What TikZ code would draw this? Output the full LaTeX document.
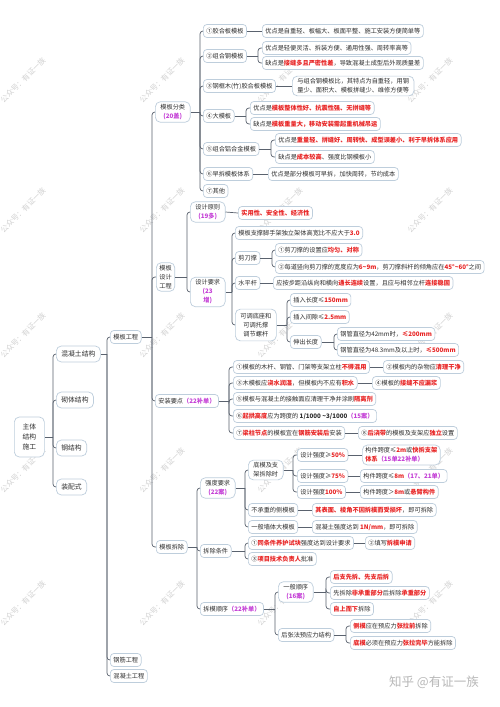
\documentclass[tikz,border=0pt]{standalone}
\usepackage{fontspec}
\setmainfont{Noto Sans CJK SC}
\usepackage{tikz}

\definecolor{ink}{RGB}{45,45,45}
\definecolor{boxline}{RGB}{190,206,220}
\definecolor{wire}{RGB}{90,98,110}
\definecolor{hotred}{RGB}{232,36,36}
\definecolor{tagpurple}{RGB}{196,62,214}

\newcommand\smallcn{\fontsize{6.2}{7.6}\selectfont}
\newcommand\stackcn{\fontsize{6.2}{9}\selectfont}
\newcommand\largecn{\fontsize{6.8}{10}\selectfont}
\newcommand\wmcn{\fontsize{7.5}{8}\selectfont}
\newcommand\hot[1]{\textcolor{hotred}{\bfseries #1}}
\newcommand\pur[1]{\textcolor{tagpurple}{\bfseries #1}}

\tikzset{
  box/.style={draw=boxline, fill=white, rounded corners=3.5pt, line width=0.7pt,
    inner xsep=3pt, inner ysep=1.5pt, minimum height=13pt, anchor=west,
    text=ink, font=\smallcn},
  stack/.style={box, align=center, inner xsep=5pt, inner ysep=2.5pt,
    rounded corners=5pt, font=\stackcn},
  bigbox/.style={box, inner xsep=5pt, minimum height=16pt, rounded corners=5pt,
    font=\largecn},
  rootbox/.style={bigbox, align=center, minimum width=30pt, minimum height=40pt},
  link/.style={draw=wire, line width=0.7pt, rounded corners=3pt},
  wmark/.style={text=black!18, rotate=45, font=\wmcn},
}

\begin{document}
\begin{tikzpicture}[x=1pt,y=-1pt]
\fill[white] (0,0) rectangle (500,707);
\useasboundingbox (0,0) rectangle (500,707);

% watermarks
\foreach \wx in {23,162,280,430}
  \foreach \wy in {80,210,335,470,603}
    \node[wmark] (wm-\wx-\wy) at (\wx,\wy) {公众号：有证一族};
\node[text=black!28, font=\fontsize{12.5}{13}\selectfont] (zhihu) at (434,682) {知乎 @有证一族};

% root and first level
\node[rootbox] (zt) at (14,437) {主体\\结构\\施工};
\coordinate (zt-j) at (53,437);
\node[bigbox] (hnt) at (56,354) {混凝土结构};
\node[bigbox] (qt) at (56,400) {砌体结构};
\node[bigbox] (gj) at (56,448) {钢结构};
\node[bigbox] (zp) at (56,487) {装配式};
\draw[link] (zt.east) -- (zt-j);
\foreach \c in {hnt,qt,gj,zp} \draw[link] (zt-j) |- (\c.west);

% concrete structure
\coordinate (hnt-j) at (107,354);
\node[box] (mbgc) at (110,337) {模板工程};
\node[box] (gjgc) at (110,660) {钢筋工程};
\node[box] (hntgc) at (110,676) {混凝土工程};
\draw[link] (hnt.east) -- (hnt-j);
\foreach \c in {mbgc,gjgc,hntgc} \draw[link] (hnt-j) |- (\c.west);

% formwork works
\coordinate (mbgc-j) at (152,337);
\node[stack] (mbfl) at (155,112) {模板分类\\\pur{(20盖)}};
\node[stack, inner xsep=3pt] (mbsj) at (156,277) {模板\\设计\\工程};
\node[box] (azyd) at (155,401) {安装要点\pur{（22补单）}};
\node[box] (mbcc) at (156,547) {模板拆除};
\draw[link] (mbgc.east) -- (mbgc-j);
\foreach \c in {mbfl,mbsj,azyd,mbcc} \draw[link] (mbgc-j) |- (\c.west);

% classification
\coordinate (mbfl-j) at (200,112);
\node[box] (fl1) at (203,31) {①胶合板模板};
\node[box] (fl1a) at (262,31) {优点是自重轻、板幅大、板面平整、施工安装方便简单等};
\node[box] (fl2) at (203,56) {②组合钢模板};
\node[box] (fl2a) at (262,48) {优点是轻便灵活、拆装方便、通用性强、周转率高等};
\node[box] (fl2b) at (262,63) {缺点是\hot{接缝多且严密性差}，导致混凝土成型后外观质量差};
\node[box] (fl3) at (203,86) {③钢框木(竹)胶合板模板};
\node[stack, align=left] (fl3a) at (292,86) {与组合钢模板比，其特点为自重轻，用钢\\量少、面积大、模板拼缝少、维修方便等};
\node[box] (fl4) at (203,116) {④大模板};
\node[box] (fl4a) at (250,108) {优点是\hot{模板整体性好、抗震性强、无拼缝等}};
\node[box] (fl4b) at (250,124) {缺点是\hot{模板重量大，移动安装需起重机械吊运}};
\node[box] (fl5) at (203,149) {⑤组合铝合金模板};
\node[box] (fl5a) at (275,140) {优点是\hot{重量轻、拼缝好、周转快、成型误差小、利于早拆体系应用}};
\node[box] (fl5b) at (275,157) {缺点是\hot{成本较高}、强度比钢模板小};
\node[box] (fl6) at (203,174) {⑥早拆模板体系};
\node[box] (fl6a) at (268,174) {优点是部分模板可早拆，加快周转，节约成本};
\node[box] (fl7) at (203,191) {⑦其他};
\draw[link] (mbfl.east) -- (mbfl-j);
\foreach \c in {fl1,fl2,fl3,fl4,fl5,fl6,fl7} \draw[link] (mbfl-j) |- (\c.west);
\coordinate (fl2-j) at (258,56);
\coordinate (fl4-j) at (246,116);
\coordinate (fl5-j) at (271,149);
\draw[link] (fl1.east) -- (fl1a.west);
\draw[link] (fl3.east) -- (fl3a.west);
\draw[link] (fl6.east) -- (fl6a.west);
\draw[link] (fl2.east) -- (fl2-j);
\foreach \c in {fl2a,fl2b} \draw[link] (fl2-j) |- (\c.west);
\draw[link] (fl4.east) -- (fl4-j);
\foreach \c in {fl4a,fl4b} \draw[link] (fl4-j) |- (\c.west);
\draw[link] (fl5.east) -- (fl5-j);
\foreach \c in {fl5a,fl5b} \draw[link] (fl5-j) |- (\c.west);

% design
\coordinate (mbsj-j) at (187,277);
\node[stack] (sjyz) at (190,212) {设计原则\\\pur{(19多)}};
\node[box] (sjyza) at (238,213) {\hot{实用性、安全性、经济性}};
\node[stack] (sjyq) at (190,292) {设计要求\\\pur{(23}\\\pur{增)}};
\draw[link] (mbsj.east) -- (mbsj-j);
\foreach \c in {sjyz,sjyq} \draw[link] (mbsj-j) |- (\c.west);
\draw[link] (sjyz.east) -- (sjyza.west);
\coordinate (sjyq-j) at (232,292);
\node[box] (yq1) at (235,233) {模板支撑脚手架独立架体高宽比不应大于\hot{3.0}};
\node[box] (yq2) at (235,258) {剪刀撑};
\node[box] (yq2a) at (275,250) {①剪刀撑的设置应\hot{均匀、对称}};
\node[box] (yq2b) at (275,267) {②每道竖向剪刀撑的宽度应为\hot{6\textasciitilde9m}，剪刀撑斜杆的倾角应在\hot{45°\textasciitilde60°}之间};
\node[box] (yq3) at (235,283) {水平杆};
\node[box] (yq3a) at (273,283) {应按步距沿纵向和横向\hot{通长连续}设置，且应与相邻立杆\hot{连接稳固}};
\node[stack, inner ysep=4pt] (yq4) at (235,325) {可调底座和\\可调托撑\\调节螺杆};
\node[box] (yq4a) at (290,300) {插入长度≤\hot{150mm}};
\node[box] (yq4b) at (290,317) {插入间隙≤\hot{2.5mm}};
\node[box] (yq4c) at (290,342) {伸出长度};
\node[box] (yq4c1) at (337,334) {钢管直径为42mm时，\hot{≤200mm}};
\node[box] (yq4c2) at (337,350) {钢管直径为48.3mm及以上时，\hot{≤500mm}};
\draw[link] (sjyq.east) -- (sjyq-j);
\foreach \c in {yq1,yq2,yq3,yq4} \draw[link] (sjyq-j) |- (\c.west);
\coordinate (yq2-j) at (272,258);
\draw[link] (yq2.east) -- (yq2-j);
\foreach \c in {yq2a,yq2b} \draw[link] (yq2-j) |- (\c.west);
\draw[link] (yq3.east) -- (yq3a.west);
\coordinate (yq4-j) at (287,325);
\draw[link] (yq4.east) -- (yq4-j);
\foreach \c in {yq4a,yq4b,yq4c} \draw[link] (yq4-j) |- (\c.west);
\coordinate (yq4c-j) at (334,342);
\draw[link] (yq4c.east) -- (yq4c-j);
\foreach \c in {yq4c1,yq4c2} \draw[link] (yq4c-j) |- (\c.west);

% installation
\coordinate (azyd-j) at (229,401);
\node[box] (az1) at (233,367) {①模板的木杆、钢管、门架等支架立柱\hot{不得混用}};
\node[box] (az2) at (383,367) {②模板内的杂物应\hot{清理干净}};
\node[box] (az3) at (233,383) {③木模板应\hot{浇水润湿}，但模板内不应有\hot{积水}};
\node[box] (az4) at (372,383) {④模板的\hot{接缝不应漏浆}};
\node[box] (az5) at (233,399) {⑤模板与混凝土的接触面应清理干净并涂刷\hot{隔离剂}};
\node[box] (az6) at (233,416) {⑥\hot{起拱高度}应为跨度的 \textbf{1/1000 \textasciitilde3/1000}\pur{（15案）}};
\node[box] (az7) at (233,433) {⑦\hot{梁柱节点}的模板宜在\hot{钢筋安装后}安装};
\node[box] (az8) at (358,433) {⑧\hot{后浇带}的模板及支架应\hot{独立}设置};
\draw[link] (azyd.east) -- (azyd-j);
\foreach \c in {az1,az3,az5,az6,az7} \draw[link] (azyd-j) |- (\c.west);
\draw[link] (az1.east) -- (az2.west);
\draw[link] (az3.east) -- (az4.west);
\draw[link] (az7.east) -- (az8.west);

% removal
\coordinate (mbcc-j) at (197,547);
\node[stack] (qd) at (200,488) {强度要求\\\pur{(22案)}};
\node[box] (cc) at (200,551) {拆除条件};
\node[box] (sx) at (200,609) {拆模顺序\pur{（22补单）}};
\draw[link] (mbcc.east) -- (mbcc-j);
\foreach \c in {qd,cc,sx} \draw[link] (mbcc-j) |- (\c.west);

\coordinate (qd-j) at (245,488);
\node[stack] (dm) at (248,470) {底模及支\\架拆除时};
\node[box] (dm1) at (297,455) {设计强度≥\hot{50\%}};
\node[stack, align=left, inner xsep=3pt] (dm1a) at (362,455) {构件跨度≤\hot{2m}或\hot{快拆支架}\\\hot{体系}\pur{（15单22补单）}};
\node[box] (dm2) at (297,476) {设计强度≥\hot{75\%}};
\node[box] (dm2a) at (360,476) {构件跨度≤\hot{8m}\pur{（17、21单）}};
\node[box] (dm3) at (297,492) {设计强度\hot{100\%}};
\node[box] (dm3a) at (360,492) {构件跨度＞\hot{8m}或\hot{悬臂构件}};
\node[box] (cm) at (248,510) {不承重的侧模板};
\node[box] (cma) at (312,510) {\hot{其表面、棱角不因拆模而受损坏}，即可拆除};
\node[box] (qm) at (248,527) {一般墙体大模板};
\node[box] (qma) at (312,527) {混凝土强度达到 \hot{1N/mm}，即可拆除};
\draw[link] (qd.east) -- (qd-j);
\foreach \c in {dm,cm,qm} \draw[link] (qd-j) |- (\c.west);
\coordinate (dm-j) at (293,470);
\draw[link] (dm.east) -- (dm-j);
\foreach \c in {dm1,dm2,dm3} \draw[link] (dm-j) |- (\c.west);
\draw[link] (dm1.east) -- (dm1a.west);
\draw[link] (dm2.east) -- (dm2a.west);
\draw[link] (dm3.east) -- (dm3a.west);
\draw[link] (cm.east) -- (cma.west);
\draw[link] (qm.east) -- (qma.west);

\coordinate (cc-j) at (245,551);
\node[box] (cc1) at (248,543) {①\hot{同条件养护试块}强度达到设计要求};
\node[box] (cc2) at (365,543) {②填写\hot{拆模申请}};
\node[box] (cc3) at (248,559) {③\hot{项目技术负责人}批准};
\draw[link] (cc.east) -- (cc-j);
\foreach \c in {cc1,cc3} \draw[link] (cc-j) |- (\c.west);
\draw[link] (cc1.east) -- (cc2.west);

\coordinate (sx-j) at (275,609);
\node[stack] (yb) at (278,592) {一般顺序\\\pur{(16案)}};
\node[box] (yb1) at (330,577) {\hot{后支先拆、先支后拆}};
\node[box] (yb2) at (330,593) {先拆除\hot{非承重部分}后拆除\hot{承重部分}};
\node[box] (yb3) at (330,609) {\hot{自上而下}拆除};
\node[box] (hz) at (278,635) {后张法预应力结构};
\node[box] (hz1) at (350,626) {\hot{侧模}应在预应力\hot{张拉前}拆除};
\node[box] (hz2) at (350,643) {\hot{底模}必须在预应力\hot{张拉完毕}方能拆除};
\draw[link] (sx.east) -- (sx-j);
\foreach \c in {yb,hz} \draw[link] (sx-j) |- (\c.west);
\coordinate (yb-j) at (326,592);
\draw[link] (yb.east) -- (yb-j);
\foreach \c in {yb1,yb2,yb3} \draw[link] (yb-j) |- (\c.west);
\coordinate (hz-j) at (346,635);
\draw[link] (hz.east) -- (hz-j);
\foreach \c in {hz1,hz2} \draw[link] (hz-j) |- (\c.west);
\end{tikzpicture}
\end{document}
